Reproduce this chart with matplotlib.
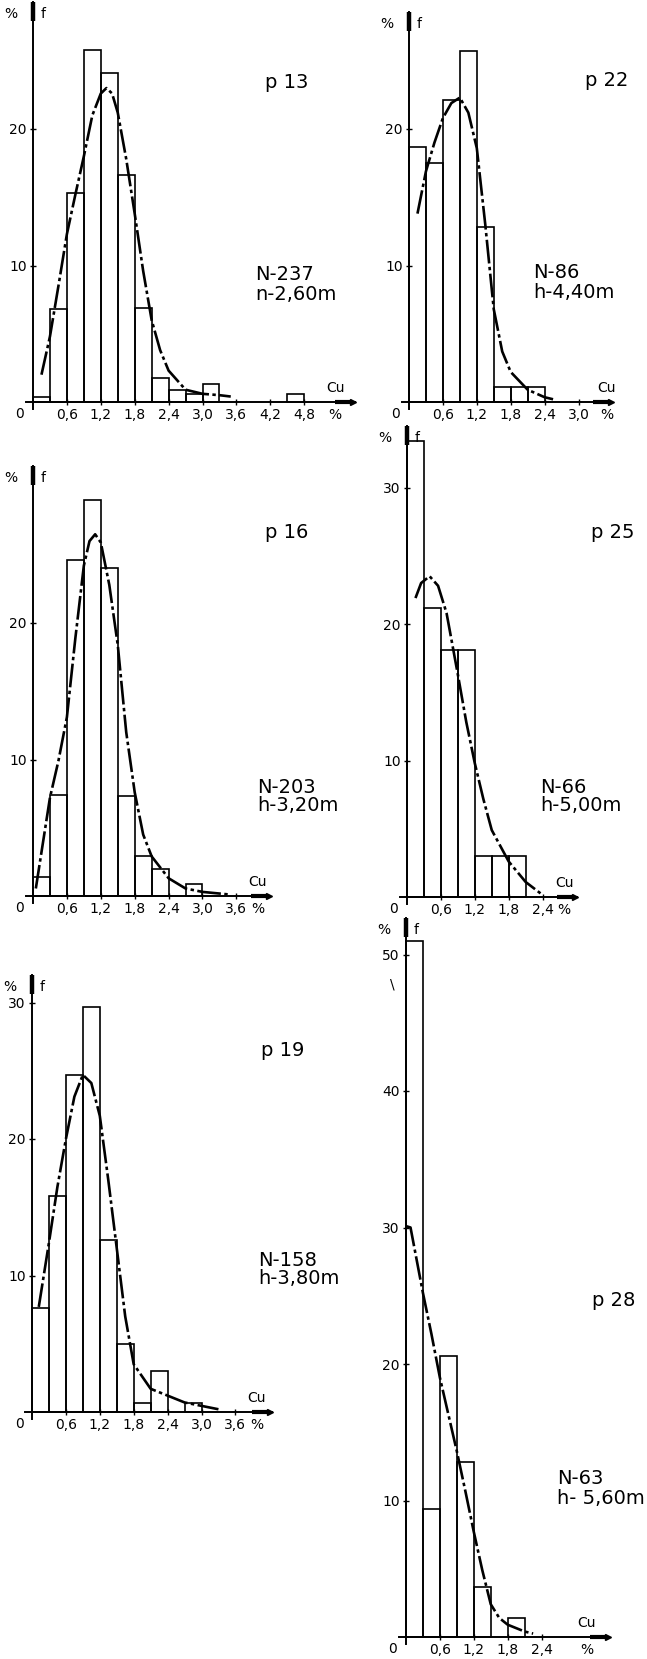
import matplotlib
matplotlib.use("Agg")
import matplotlib.pyplot as plt

W, H = 647, 1659
plt.rcParams['font.family'] = ['DejaVu Sans']

# ---------------- data ----------------
bin_width = 0.3

p13_left = [0.0, 0.3, 0.6, 0.9, 1.2, 1.5, 1.8, 2.1, 2.4, 2.7, 3.0, 4.5]
p13_freq = [0.4, 6.8, 15.3, 25.8, 24.1, 16.6, 6.9, 1.75, 0.9, 0.6, 1.3, 0.6]
p13_cx = [0.15, 0.3, 0.45, 0.6, 0.75, 0.9, 1.05, 1.2, 1.3, 1.4, 1.5, 1.65, 1.8, 1.95, 2.1, 2.25, 2.4, 2.7, 3.0, 3.3, 3.5]
p13_cy = [2.0, 4.8, 8.5, 12.3, 15.2, 18.0, 21.0, 22.6, 23.0, 22.6, 21.2, 17.8, 13.8, 9.6, 6.0, 3.8, 2.3, 0.9, 0.6, 0.5, 0.4]

p22_left = [0.0, 0.3, 0.6, 0.9, 1.2, 1.5, 1.8, 2.1]
p22_freq = [18.7, 17.5, 22.1, 25.7, 12.8, 1.1, 1.1, 1.1]
p22_cx = [0.15, 0.3, 0.45, 0.6, 0.75, 0.9, 1.05, 1.2, 1.35, 1.5, 1.65, 1.8, 2.1, 2.4, 2.55]
p22_cy = [13.8, 16.9, 19.0, 20.8, 21.9, 22.3, 21.2, 18.6, 13.0, 6.8, 3.7, 2.2, 0.9, 0.35, 0.2]

p16_left = [0.0, 0.3, 0.6, 0.9, 1.2, 1.5, 1.8, 2.1, 2.7]
p16_freq = [1.4, 7.4, 24.6, 29.0, 24.0, 7.35, 2.9, 2.0, 0.9]
p16_cx = [0.05, 0.3, 0.45, 0.6, 0.75, 0.9, 1.0, 1.1, 1.2, 1.35, 1.5, 1.65, 1.8, 1.95, 2.1, 2.4, 2.7, 3.0, 3.5]
p16_cy = [0.55, 7.2, 9.9, 13.1, 18.9, 24.2, 26.0, 26.5, 25.9, 22.8, 18.4, 12.0, 7.6, 4.5, 2.9, 1.3, 0.55, 0.3, 0.1]

p25_left = [0.0, 0.3, 0.6, 0.9, 1.2, 1.5, 1.8]
p25_freq = [33.4, 21.2, 18.1, 18.1, 3.0, 3.0, 3.0]
p25_cx = [0.15, 0.25, 0.4, 0.55, 0.7, 0.9, 1.05, 1.2, 1.35, 1.5, 1.8, 2.1, 2.4]
p25_cy = [21.9, 23.0, 23.5, 22.8, 20.8, 16.3, 12.8, 9.8, 7.2, 4.9, 2.6, 1.1, 0.15]

p19_left = [0.0, 0.3, 0.6, 0.9, 1.2, 1.5, 1.8, 2.1, 2.7]
p19_freq = [7.6, 15.8, 24.7, 29.7, 12.6, 5.0, 0.65, 3.0, 0.65]
p19_cx = [0.12, 0.3, 0.45, 0.6, 0.75, 0.9, 1.05, 1.2, 1.35, 1.5, 1.65, 1.8, 2.1, 2.4, 2.7, 3.0, 3.3]
p19_cy = [7.7, 12.4, 16.5, 20.0, 23.1, 24.7, 24.1, 21.7, 17.0, 12.0, 7.0, 3.5, 1.7, 1.2, 0.7, 0.45, 0.2]

p28_left = [0.0, 0.3, 0.6, 0.9, 1.2, 1.8]
p28_freq = [51.0, 9.4, 20.6, 12.8, 3.65, 1.4]
p28_cx = [0.0, 0.08, 0.3, 0.45, 0.6, 0.75, 0.9, 1.05, 1.2, 1.35, 1.5, 1.65, 1.8, 2.1, 2.25]
p28_cy = [30.1, 30.0, 25.2, 22.2, 19.0, 16.3, 13.6, 10.7, 7.7, 4.9, 2.4, 1.4, 0.9, 0.4, 0.25]

x_ticks_p13 = [0.6, 1.2, 1.8, 2.4, 3.0, 3.6, 4.2, 4.8]
x_ticks_p22 = [0.6, 1.2, 1.8, 2.4, 3.0]
x_ticks_p16 = [0.6, 1.2, 1.8, 2.4, 3.0, 3.6]
x_ticks_p25 = [0.6, 1.2, 1.8, 2.4]
x_ticks_p19 = [0.6, 1.2, 1.8, 2.4, 3.0, 3.6]
x_ticks_p28 = [0.6, 1.2, 1.8, 2.4]

y_ticks_p13 = [10, 20]
y_ticks_p22 = [10, 20]
y_ticks_p16 = [10, 20]
y_ticks_p25 = [10, 20, 30]
y_ticks_p19 = [10, 20, 30]
y_ticks_p28 = [10, 20, 30, 40, 50]

titles = ["p 13", "p 22", "p 16", "p 25", "p 19", "p 28"]
n_labels = ["N-237", "N-86", "N-203", "N-66", "N-158", "N-63"]
h_labels = ["n-2,60m", "h-4,40m", "h-3,20m", "h-5,00m", "h-3,80m", "h- 5,60m"]

# ---------------- layout ----------------
SX = 56.5   # px per % Cu
SY = 13.65  # px per % frequency

panels = [
    dict(x0=33, y0=402, xmax=5.7, ymax=29.3, left=p13_left, freq=p13_freq, cx=p13_cx, cy=p13_cy,
         xt=x_ticks_p13, yt=y_ticks_p13, title=(287, 82), nlab=(255, 275), pct_x=5.35),
    dict(x0=409, y0=402, xmax=3.6, ymax=28.6, left=p22_left, freq=p22_freq, cx=p22_cx, cy=p22_cy,
         xt=x_ticks_p22, yt=y_ticks_p22, title=(607, 80), nlab=(533, 273), pct_x=3.5),
    dict(x0=33, y0=896, xmax=4.2, ymax=31.5, left=p16_left, freq=p16_freq, cx=p16_cx, cy=p16_cy,
         xt=x_ticks_p16, yt=y_ticks_p16, title=(287, 532), nlab=(257, 787), pct_x=3.98),
    dict(x0=407, y0=897, xmax=3.0, ymax=34.5, left=p25_left, freq=p25_freq, cx=p25_cx, cy=p25_cy,
         xt=x_ticks_p25, yt=y_ticks_p25, title=(613, 532), nlab=(540, 787), pct_x=2.78),
    dict(x0=32, y0=1412, xmax=4.25, ymax=32.0, left=p19_left, freq=p19_freq, cx=p19_cx, cy=p19_cy,
         xt=x_ticks_p19, yt=y_ticks_p19, title=(283, 1050), nlab=(258, 1260), pct_x=3.98),
    dict(x0=406, y0=1637, xmax=3.6, ymax=52.7, left=p28_left, freq=p28_freq, cx=p28_cx, cy=p28_cy,
         xt=x_ticks_p28, yt=y_ticks_p28, title=(614, 1301), nlab=(557, 1479), pct_x=3.2),
]

fig = plt.figure(figsize=(W / 100, H / 100), dpi=100)
fig.patch.set_facecolor("white")

XMIN, YMIN = -0.12, -0.5
curve_style = (0, (9, 1.3, 1.3, 1.3))

for i, p in enumerate(panels):
    left_px = p["x0"] + XMIN * SX
    right_px = p["x0"] + p["xmax"] * SX
    top_px = p["y0"] - p["ymax"] * SY
    bot_px = p["y0"] - YMIN * SY
    ax = fig.add_axes([left_px / W, 1 - bot_px / H, (right_px - left_px) / W, (bot_px - top_px) / H])
    ax.set_xlim(XMIN, p["xmax"])
    ax.set_ylim(YMIN, p["ymax"])
    ax.patch.set_alpha(0)
    for s in ["top", "right"]:
        ax.spines[s].set_visible(False)
    ax.spines["left"].set_position(("data", 0))
    ax.spines["bottom"].set_position(("data", 0))
    ax.spines["left"].set_linewidth(1.4)
    ax.spines["bottom"].set_linewidth(1.4)

    # histogram bars
    ax.bar(p["left"], p["freq"], width=bin_width, align="edge", fill=False,
           edgecolor="black", linewidth=1.2)
    # fitted curve
    ax.plot(p["cx"], p["cy"], color="black", linewidth=1.9, linestyle=curve_style)

    # ticks
    ax.set_xticks(p["xt"])
    ax.set_xticklabels([f"{v:.1f}".replace(".", ",") for v in p["xt"]], fontsize=10)
    ax.set_yticks(p["yt"])
    ax.set_yticklabels([str(v) for v in p["yt"]], fontsize=10)
    ax.tick_params(axis="both", direction="inout", length=5, width=1.0, pad=2)

    # "0" at origin, shifted left
    ax.annotate("0", xy=(0, 0), xytext=(-13, -5), textcoords="offset pixels",
                ha="center", va="top", fontsize=10)

    # axis arrows
    ax.plot([0, 0], [p["ymax"] - 1.4, p["ymax"]], color="black", linewidth=3.2,
            solid_capstyle="butt", clip_on=False)
    ax.plot([p["xmax"] - 0.35, p["xmax"] - 0.05], [0, 0], color="black", linewidth=3.0,
            solid_capstyle="butt", clip_on=False)
    ax.plot([p["xmax"] - 0.03], [0], marker=">", color="black", markersize=5, clip_on=False)

    # axis labels
    ax.annotate("%", xy=(0, p["ymax"]), xytext=(-22, -12), textcoords="offset pixels",
                ha="center", va="center", fontsize=10)
    ax.annotate("f", xy=(0, p["ymax"]), xytext=(10, -12), textcoords="offset pixels",
                ha="center", va="center", fontsize=10)
    ax.annotate("Cu", xy=(p["pct_x"], 0), xytext=(0, 14), textcoords="offset pixels",
                ha="center", va="center", fontsize=10)
    ax.annotate("%", xy=(p["pct_x"], 0), xytext=(0, -13), textcoords="offset pixels",
                ha="center", va="center", fontsize=10)

    # panel texts
    tx, ty = p["title"]
    fig.text(tx / W, 1 - ty / H, titles[i], ha="center", va="center", fontsize=14)
    nx, ny = p["nlab"]
    fig.text(nx / W, 1 - ny / H, n_labels[i], ha="left", va="center", fontsize=14)
    fig.text(nx / W, 1 - (ny + 19) / H, h_labels[i], ha="left", va="center", fontsize=14)

# small stray mark in the last panel
fig.text(392 / W, 1 - 984 / H, "\\", ha="center", va="center", fontsize=10)

fig.savefig("out.png", dpi=100, facecolor="white")
